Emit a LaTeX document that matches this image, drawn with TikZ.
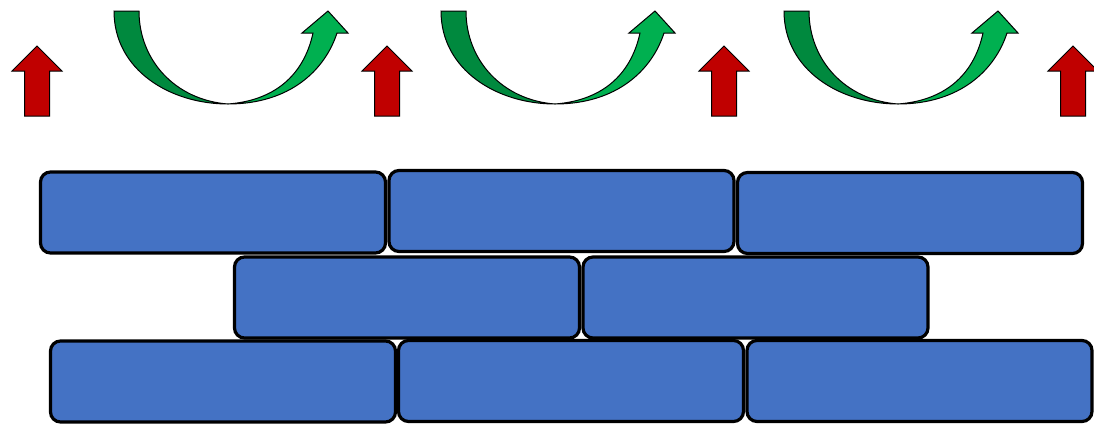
\documentclass[tikz,border=0pt]{standalone}
\usepackage{tikz}

\definecolor{brickblue}{RGB}{68,114,196}
\definecolor{upred}{RGB}{192,0,0}
\definecolor{darkgreen}{RGB}{0,137,62}
\definecolor{lightgreen}{RGB}{0,176,80}

\begin{document}
\begin{tikzpicture}[x=1pt,y=-1pt,
    brick/.style={draw, line width=3.2pt, fill=brickblue, rounded corners=10pt,
        minimum width=345pt, minimum height=81pt, inner sep=0pt}]
        \useasboundingbox (0,0) rectangle (1094,424);
        % Top row
        \node[brick] (t1) at (213,212.5) {};
        \node[brick] (t2) at (561.5,211) {};
        \node[brick] (t3) at (910,213) {};
        % Middle row
        \node[brick] (m1) at (407,297.5) {};
        \node[brick] (m2) at (755.5,297.5) {};
        % Bottom row
        \node[brick] (b1) at (223,381.5) {};
        \node[brick] (b2) at (571,381) {};
        \node[brick] (b3) at (919.5,381) {};
        % Up arrows
        \foreach \x in {37,387,724,1073}
            \draw[fill=upred, line width=1pt] (\x-12.5,116) -- (\x-12.5,71) -- (\x-25,71)
                -- (\x,46) -- (\x+25,71) -- (\x+12.5,71) -- (\x+12.5,116) -- cycle;
        % Curved arrows
        \foreach \x in {114,441,784} {
            \draw[fill=darkgreen, line width=1pt] (\x,11) .. controls (\x,70) and (\x+56,104) .. (\x+114,104)
                .. controls (\x+61,100) and (\x+25,60) .. (\x+25,11) -- cycle;
            \draw[fill=lightgreen, line width=1pt] (\x+114,104) .. controls (\x+176,104) and (\x+211,70) .. (\x+223,33)
                -- (\x+234,33) -- (\x+214,11) -- (\x+188,33) -- (\x+199,33)
                .. controls (\x+191,70) and (\x+166,100) .. (\x+114,104) -- cycle;
        }
\end{tikzpicture}
\end{document}
